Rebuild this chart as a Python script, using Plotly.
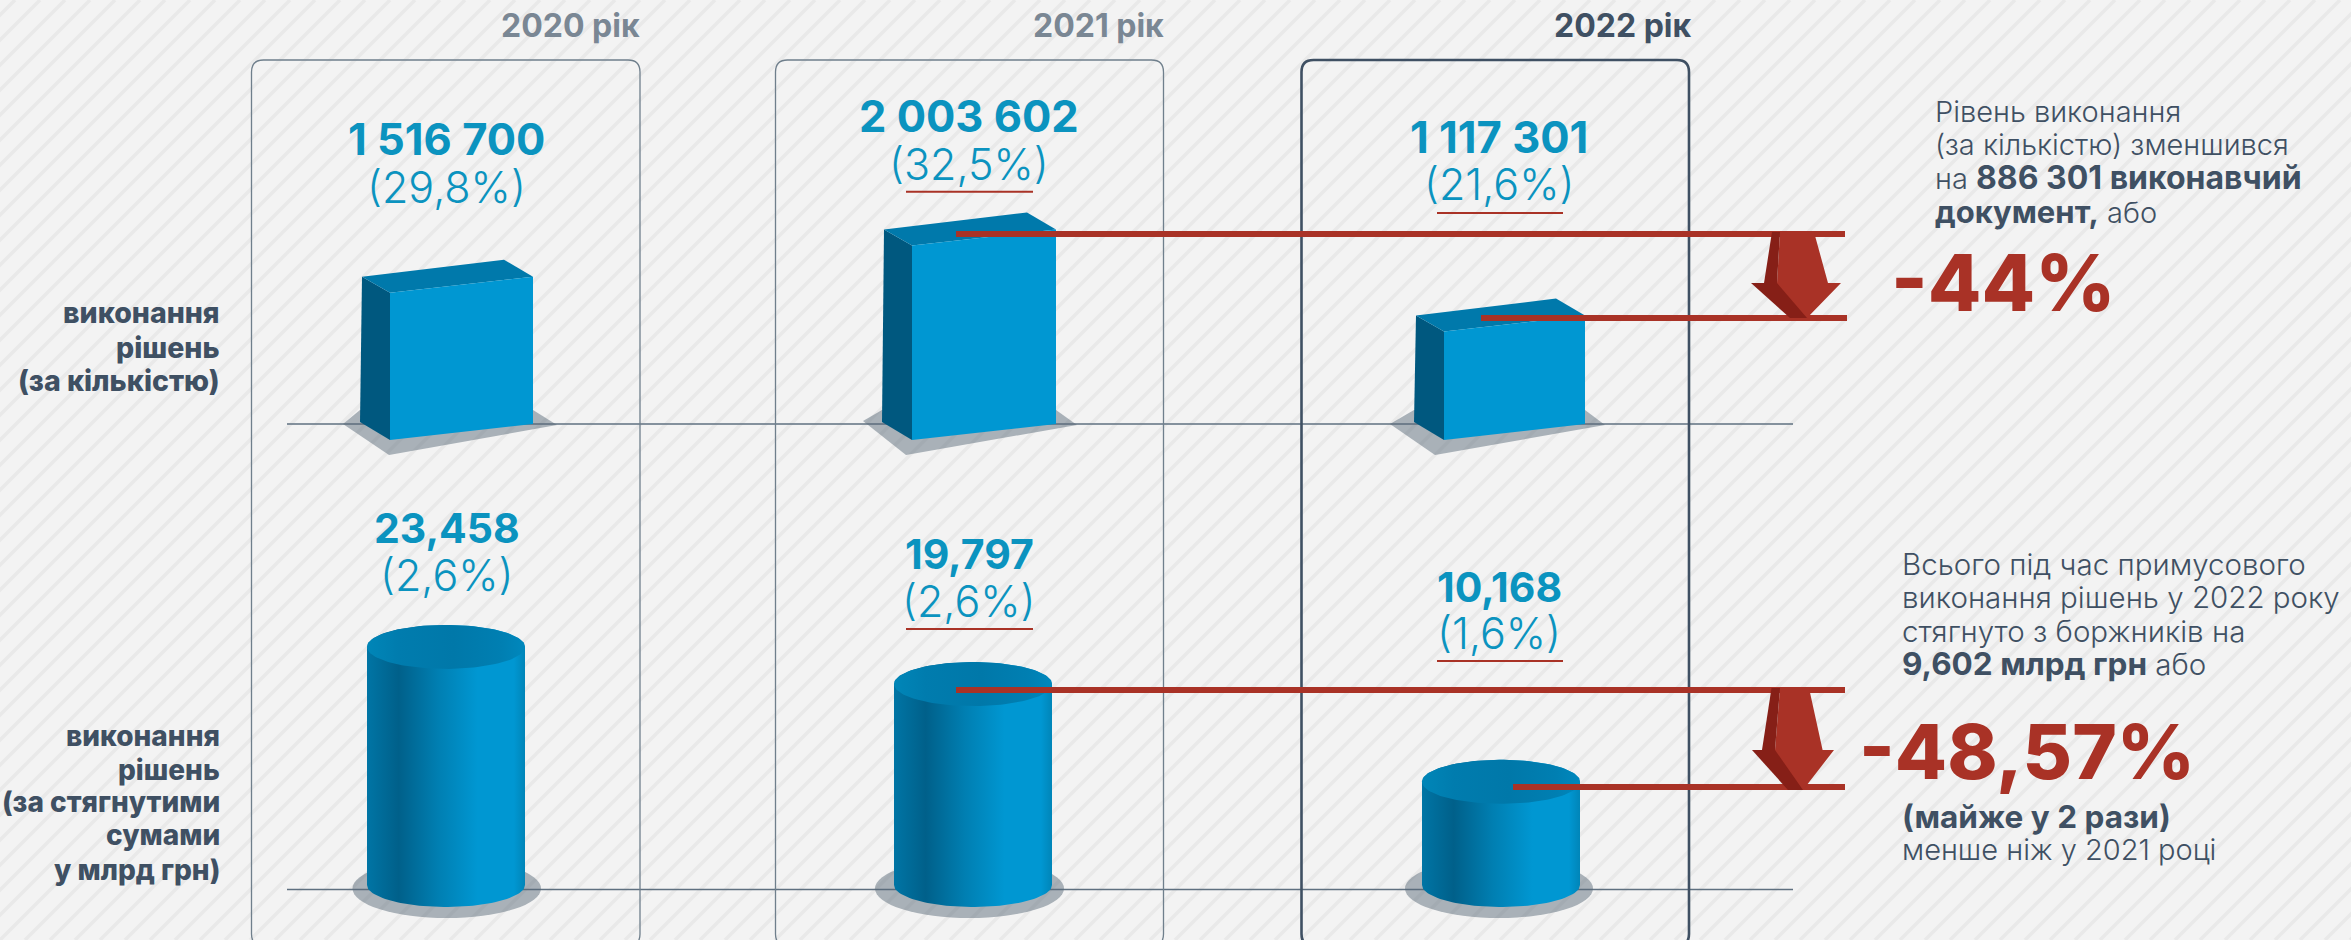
import numpy as np
import plotly.graph_objects as go

# ---------- data ----------
years = ["2020 рік", "2021 рік", "2022 рік"]
counts = [1516700, 2003602, 1117301]
count_labels = ["1 516 700", "2 003 602", "1 117 301"]
count_shares = ["(29,8%)", "(32,5%)", "(21,6%)"]
sums = [23.458, 19.797, 10.168]
sum_labels = ["23,458", "19,797", "10,168"]
sum_shares = ["(2,6%)", "(2,6%)", "(1,6%)"]

# ---------- layout constants (pixels of the 2351x940 page) ----------
W, H = 2351, 940
BLUE, SIDE, TOPF = "#0097d2", "#00587f", "#0079ab"
RED, DRED = "#a93226", "#861f17"
DARK, GREY = "#3f5063", "#7a8794"
LBL = "#0b93bf"
FONT = "Inter"
PX_COUNT, BASE_COUNT = 10300, 424
PX_SUM, BASE_SUM = 10.15, 885
front_l = [390, 912, 1444]
front_w = [143, 144, 141]
cyl_l = [367, 894, 1422]
cyl_w = [158, 158, 158]
RY = 22

fig = go.Figure()

def poly(x, y, color, axis, name="", grad=None, hover="skip"):
    kw = dict(fillgradient=grad) if grad else dict(fillcolor=color)
    fig.add_trace(go.Scatter(x=x, y=y, mode="lines", fill="toself", line=dict(width=0, color=color),
                             yaxis=axis, name=name, showlegend=False, hoverinfo=hover, **kw))

# ---------- boxes (top row) ----------
k = PX_COUNT
for l, w, v, yr in zip(front_l, front_w, counts, years):
    r = l + w
    # side
    poly([l - 30, l, l, l - 28], [2 * k, -16 * k, v - 16 * k, v], SIDE, "y")
    # top
    poly([l - 28, l, r, r - 29], [v, v - 16 * k, v, v + 17 * k], TOPF, "y")
    # front
    poly([l, r, r, l], [-16 * k, 0, v, v - 16 * k], BLUE, "y", name=yr, hover="name+y")

# ---------- cylinders (bottom row) ----------
t = np.linspace(0, np.pi, 60)
body = dict(type="horizontal", colorscale=[[0, "#0075a5"], [0.2, "#00608a"], [0.45, "#007fb2"],
                                           [0.7, "#0097d2"], [0.93, "#0097d2"], [1, "#0085b8"]])
cap = dict(type="horizontal", colorscale=[[0, "#0086b8"], [0.2, "#007cae"], [0.55, "#0078a9"],
                                          [0.85, "#007fb2"], [1, "#0088bd"]])
ry = RY / PX_SUM
for l, w, v, yr in zip(cyl_l, cyl_w, sums, years):
    c, a = l + w / 2, w / 2
    xs = np.concatenate([c + a * np.cos(np.pi - t), c + a * np.cos(t)])
    ys = np.concatenate([v + ry * np.sin(t), -ry * np.sin(t)])
    poly(list(xs), list(ys), BLUE, "y2", name=yr, grad=body, hover="name+y")
    tt = np.linspace(0, 2 * np.pi, 120)
    poly(list(c + a * np.cos(tt)), list(v + ry * np.sin(tt)), TOPF, "y2", grad=cap)

# ---------- shapes in page pixels ----------
shapes = []
def S(**kw):
    shapes.append(dict(xref="x", yref="y3", **kw))

# background hatch
hatch = []
for i in range(-50, 110):
    x0 = i * 25
    hatch.append(f"M{x0},{H} L{x0 + H},0")
S(type="path", path=" ".join(hatch), line=dict(color="#e9e9e9", width=3.5), layer="below")

# baselines
for py in (424, 889.5):
    S(type="line", x0=287, x1=1793, y0=py, y1=py, line=dict(color="#5f7080", width=1.5), layer="below")

# column frames
def rrect(x0, x1, y0, y1, r=12):
    return (f"M{x0},{y0 + r} Q{x0},{y0} {x0 + r},{y0} L{x1 - r},{y0} Q{x1},{y0} {x1},{y0 + r} "
            f"L{x1},{y1 - r} Q{x1},{y1} {x1 - r},{y1} L{x0 + r},{y1} Q{x0},{y1} {x0},{y1 - r} Z")
S(type="path", path=rrect(251.5, 640, 60, 946), line=dict(color="#6f7f8c", width=1.3), layer="below")
S(type="path", path=rrect(775.5, 1163.5, 60, 946), line=dict(color="#6f7f8c", width=1.3), layer="below")
S(type="path", path=rrect(1301.5, 1689, 60, 946), line=dict(color=DARK, width=2.6), layer="below")

# shadows of the boxes
SH = "rgba(88,104,120,0.48)"
for pts in ([(343, 424), (389, 455), (557, 425), (533, 410), (360, 410)],
            [(863, 421), (906, 455), (1077, 425), (1056, 410), (882, 410)],
            [(1390, 424), (1435, 455), (1605, 425), (1585, 410), (1414, 410)]):
    S(type="path", path="M" + " L".join(f"{a},{b}" for a, b in pts) + " Z", fillcolor=SH,
      line=dict(width=0), layer="below")
# shadows of the cylinders
for x0, x1 in ((352.5, 541), (875, 1064), (1405, 1593)):
    S(type="circle", x0=x0, x1=x1, y0=859, y1=918, fillcolor=SH, line=dict(width=0), layer="below")

# red connectors
for x0, x1, py in ((956, 1845, 234), (1481, 1847, 318), (956, 1845, 690), (1513, 1845, 787)):
    S(type="line", x0=x0, x1=x1, y0=py, y1=py, line=dict(color=RED, width=6))
# underlines
for x0, x1, py in ((906, 1033, 191.7), (1437, 1563, 213), (906, 1033, 629), (1437, 1563, 661)):
    S(type="line", x0=x0, x1=x1, y0=py, y1=py, line=dict(color=RED, width=2))

def pg(pts, col):
    S(type="path", path="M" + " L".join(f"{a},{b}" for a, b in pts) + " Z", fillcolor=col, line=dict(width=0))
# arrows
pg([(1780, 232), (1814, 232), (1828, 283), (1841, 283), (1807, 318), (1790, 318), (1764, 283), (1777, 283)], RED)
pg([(1772, 232), (1780, 232), (1777, 283), (1764, 283)], DRED)
pg([(1751, 283), (1777, 283), (1807, 318), (1790, 318)], DRED)
pg([(1780, 688), (1809, 688), (1822.6, 750), (1834, 750), (1803, 790), (1788, 790), (1762, 750), (1775, 750)], RED)
pg([(1771.5, 688), (1780, 688), (1775, 750), (1762, 750)], DRED)
pg([(1752, 750), (1775, 750), (1803, 790), (1788, 790)], DRED)

# ---------- text ----------
ann = []
def T(x, base, text, size, color, anchor="left", weight=400):
    # `base` is the text baseline in page pixels
    ann.append(dict(x=x, y=base - 0.36 * size, xref="x", yref="y3", text=text, showarrow=False,
                    xanchor=anchor, yanchor="middle", align=anchor, borderpad=0,
                    font=dict(family=FONT, size=size, color=color, weight=weight)))

def B(s, size):
    return f'<span style="font-size:{size}px"><b>{s}</b></span>'

for x, yr, c in zip((570, 1098, 1622), years, (GREY, GREY, DARK)):
    T(x, 37, yr, 32, c, "center", 700)

for x, lab, share, b1, b2 in zip((446, 969, 1499), count_labels, count_shares, (155, 132, 153), (202, 179, 199)):
    T(x, b1, lab, 43.5, LBL, "center", 700)
    T(x, b2, share, 43, LBL, "center", 300)
for x, lab, share, b1, b2 in zip((447, 969, 1499), sum_labels, sum_shares, (543, 569, 602), (590, 616, 648)):
    T(x, b1, lab, 41, LBL, "center", 700)
    T(x, b2, share, 43, LBL, "center", 300)

for base, s in ((323, "виконання"), (358, "рішень"), (391, "(за кількістю)")):
    T(221, base, s, 28.5, DARK, "right", 800)
for base, s in ((746, "виконання"), (780, "рішень"), (812, "(за стягнутими"), (845, "сумами"), (880, "у млрд грн)")):
    T(221, base, s, 28, DARK, "right", 800)

for base, s in ((122, "Рівень виконання"), (155, "(за кількістю) зменшився"),
                (188, "на " + B("886 301 виконавчий", 32)), (222, B("документ,", 31) + " або")):
    T(1934, base, s, 29, DARK, "left", 300)
T(1890, 311, "-44%", 78, RED, "left", 800)

for base, s in ((575, "Всього під час примусового"), (608, "виконання рішень у 2022 року"),
                (642, "стягнуто з боржників на"), (674, B("9,602 млрд грн", 31.5) + " або")):
    T(1901, base, s, 29.5, DARK, "left", 300)
T(1858, 778, "-48,57%", 76, RED, "left", 800)
T(1901, 827, B("(майже у 2 рази)", 31.5), 29, DARK, "left", 300)
T(1901, 860, "менше ніж у 2021 році", 29, DARK, "left", 300)

fig.add_trace(go.Scatter(x=[0], y=[0], yaxis="y3", mode="markers", marker=dict(opacity=0),
                         showlegend=False, hoverinfo="skip"))

hid = dict(visible=False, fixedrange=True)
fig.update_layout(
    width=W, height=H, margin=dict(l=0, r=0, t=0, b=0), showlegend=False,
    paper_bgcolor="#f3f3f3", plot_bgcolor="#f3f3f3", shapes=shapes, annotations=ann,
    xaxis=dict(range=[0, W], **hid),
    yaxis=dict(range=[(BASE_COUNT - H) * PX_COUNT, BASE_COUNT * PX_COUNT], **hid),
    yaxis2=dict(range=[(BASE_SUM - H) / PX_SUM, BASE_SUM / PX_SUM], overlaying="y", **hid),
    yaxis3=dict(range=[H, 0], overlaying="y", **hid),
)
fig.write_html("out.html", config=dict(displayModeBar=False),
               post_script="document.body.style.margin='0';document.body.style.overflow='hidden';")
